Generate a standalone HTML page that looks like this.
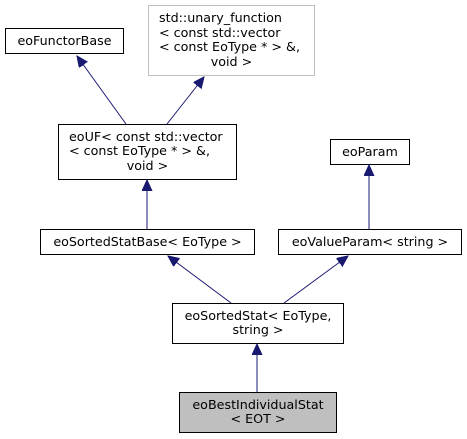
<!DOCTYPE html>
<html><head><meta charset="utf-8"><style>
html,body{margin:0;padding:0;background:#fff;}
svg{display:block;}
text{font-family:"DejaVu Sans","Liberation Sans",sans-serif;font-size:12.7px;fill:#000;}
</style></head><body>
<svg width="467" height="439" viewBox="0 0 467 439" xmlns="http://www.w3.org/2000/svg">
<defs>
<marker id="a" markerWidth="12" markerHeight="12" refX="11" refY="5" orient="auto" markerUnits="userSpaceOnUse">
<path d="M0,0 L11,5 L0,10 z" fill="#191970" stroke="#191970"/>
</marker>
</defs>
<g fill="#fff" stroke="#000" stroke-width="1">
<rect x="5.5" y="28.5" width="118" height="25"/>
<rect x="148.5" y="5.5" width="166" height="70" stroke="#bfbfbf"/>
<rect x="58.5" y="124.5" width="178" height="55"/>
<rect x="330.5" y="139.5" width="79" height="25"/>
<rect x="40.5" y="229.5" width="214" height="25"/>
<rect x="278.5" y="229.5" width="183" height="25"/>
<rect x="172.5" y="303.5" width="171" height="40"/>
<rect x="179.5" y="392.5" width="157" height="40" fill="#bfbfbf"/>
</g>
<g stroke="#191970" stroke-width="1" fill="none" marker-end="url(#a)">
<line x1="126" y1="124" x2="77" y2="56"/>
<line x1="167" y1="124" x2="204" y2="77"/>
<line x1="147" y1="229" x2="147" y2="180"/>
<line x1="369" y1="229" x2="369" y2="165"/>
<line x1="231" y1="303" x2="168" y2="256"/>
<line x1="284" y1="303" x2="348" y2="256"/>
<line x1="257" y1="392" x2="257" y2="344"/>
</g>
<text x="64.5" y="45" text-anchor="middle">eoFunctorBase</text>
<text x="159" y="22">std::unary_function</text>
<text x="159" y="37">&lt; const std::vector</text>
<text x="159" y="51">&lt; const EoType * &gt; &amp;,</text>
<text x="231.5" y="66" text-anchor="middle">void &gt;</text>
<text x="69" y="141">eoUF&lt; const std::vector</text>
<text x="69" y="155">&lt; const EoType * &gt; &amp;,</text>
<text x="147.5" y="170" text-anchor="middle">void &gt;</text>
<text x="370" y="156" text-anchor="middle">eoParam</text>
<text x="147.5" y="246" text-anchor="middle">eoSortedStatBase&lt; EoType &gt;</text>
<text x="370" y="246" text-anchor="middle">eoValueParam&lt; string &gt;</text>
<text x="258" y="320" text-anchor="middle">eoSortedStat&lt; EoType,</text>
<text x="258" y="334" text-anchor="middle">string &gt;</text>
<text x="258" y="409" text-anchor="middle">eoBestIndividualStat</text>
<text x="258" y="423" text-anchor="middle">&lt; EOT &gt;</text>
</svg>
</body></html>
